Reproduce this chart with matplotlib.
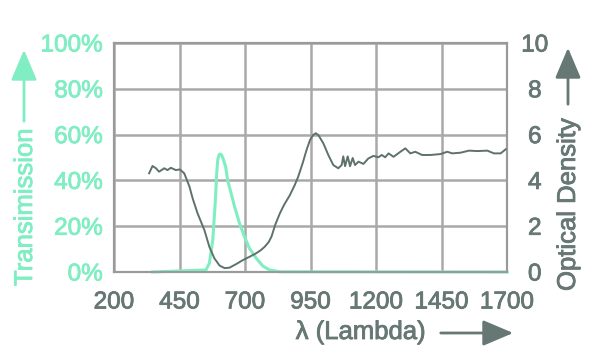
import numpy as np
import matplotlib
matplotlib.use('Agg')
import matplotlib.pyplot as plt
import matplotlib.patheffects as pe

plt.rcParams['font.family'] = ['Liberation Sans', 'DejaVu Sans']

# optical density curve (right axis)
od_lambda = [334, 347, 360, 372, 392, 404, 417, 436, 451, 468, 488, 500, 519, 545,
             564, 583, 603, 622, 641, 667, 692, 720, 743, 760, 775, 790, 801, 815,
             833, 850, 871, 890, 903, 920, 935, 948, 960, 970, 980, 999, 1018, 1037,
             1056, 1069, 1075, 1082, 1092, 1101, 1111, 1120, 1133, 1152, 1171, 1190,
             1209, 1222, 1235, 1248, 1267, 1293, 1312, 1331, 1350, 1376, 1408, 1446,
             1472, 1491, 1523, 1555, 1587, 1625, 1650, 1676, 1695]
od_values = [4.31, 4.63, 4.53, 4.38, 4.53, 4.45, 4.55, 4.45, 4.48, 4.31, 3.73, 3.22,
             2.56, 1.83, 1.10, 0.60, 0.28, 0.17, 0.19, 0.35, 0.52, 0.68, 0.82, 0.95,
             1.10, 1.30, 1.54, 2.05, 2.56, 2.95, 3.35, 3.80, 4.16, 4.75, 5.33, 5.76,
             5.98, 6.06, 5.98, 5.62, 5.11, 4.67, 4.53, 4.67, 5.05, 4.62, 5.05, 4.62,
             4.98, 4.67, 4.82, 4.72, 4.96, 5.07, 5.01, 5.11, 5.01, 5.18, 5.03, 5.25,
             5.40, 5.18, 5.25, 5.11, 5.11, 5.15, 5.25, 5.18, 5.21, 5.30, 5.28, 5.30,
             5.18, 5.18, 5.36]

# transmission curve (left axis, %)
tr_lambda = [347, 551, 564, 577, 587, 592, 596, 601, 605, 610, 615, 626, 634, 647,
             660, 679, 698, 717, 743, 768, 794, 833, 1700]
tr_values = [0.0, 0.9, 3.8, 14.0, 31.4, 43.0, 49.0, 51.2, 51.5, 51.2, 50.0, 46.0,
             40.0, 34.4, 28.6, 21.3, 15.4, 10.3, 6.0, 2.6, 0.9, 0.1, 0.0]

x_ticks = [200, 450, 700, 950, 1200, 1450, 1700]
left_ticks = [0, 20, 40, 60, 80, 100]
right_ticks = [0, 2, 4, 6, 8, 10]

green = '#80eec2'
grey = '#5f716d'
text_grey = '#667774'
grid_c = '#a9a9a9'

fig = plt.figure(figsize=(6, 3.6), dpi=100)
ax = fig.add_axes([114/600, 1-272/360, (507-114)/600, (272-43)/360])
ax2 = ax.twinx()

ax.set_xlim(200, 1700)
ax.set_ylim(0, 100)
ax2.set_ylim(0, 10)
ax.set_xticks(x_ticks)
ax.set_yticks(left_ticks)
ax.set_yticklabels(['%d%%' % v for v in left_ticks])
ax2.set_yticks(right_ticks)

ax.grid(True, color=grid_c, linewidth=1.8)
ax.set_axisbelow(True)

for a in (ax, ax2):
    for s in a.spines.values():
        s.set_color('#9a9a9a')
        s.set_linewidth(1.5)

ax.tick_params(axis='x', length=0, pad=14, labelsize=17.5, labelcolor=text_grey)
ax.tick_params(axis='y', length=0, pad=8, labelsize=17.5, labelcolor=green)
ax2.tick_params(axis='y', length=0, pad=20, labelsize=17.5, labelcolor=text_grey)
for lab in ax2.get_yticklabels():
    lab.set_horizontalalignment('center')

bold_l = [pe.withStroke(linewidth=0.6, foreground=text_grey)]
bold_g = [pe.withStroke(linewidth=0.6, foreground=green)]
for lab in ax.get_xticklabels() + ax2.get_yticklabels():
    lab.set_path_effects(bold_l)
for lab in ax.get_yticklabels():
    lab.set_path_effects(bold_g)

ax2.plot(od_lambda, od_values, color=grey, linewidth=1.4, zorder=3)
ax.plot(tr_lambda, tr_values, color=green, linewidth=2.2, zorder=4, clip_on=False)

# axis titles with arrows
fig.text(25/600, 1-286/360, 'Transimission', rotation=90, color=green,
         fontsize=18.5, ha='center', va='bottom', path_effects=bold_g)
fig.text(568/600, 1-291/360, 'Optical Density', rotation=90, color=text_grey,
         fontsize=18.5, ha='center', va='bottom', path_effects=bold_l)
fig.text(361/600, 1-332/360, 'λ (Lambda)', color=text_grey,
         fontsize=18.5, ha='center', va='center', path_effects=bold_l)

arrow_style = '-|>,head_width=0.36,head_length=0.85'
ax.annotate('', xy=(24/600, 1-47/360), xytext=(24/600, 1-124/360),
            xycoords='figure fraction', textcoords='figure fraction',
            arrowprops=dict(arrowstyle=arrow_style, color=green, lw=2, mutation_scale=22))
ax.annotate('', xy=(568/600, 1-45/360), xytext=(568/600, 1-107/360),
            xycoords='figure fraction', textcoords='figure fraction',
            arrowprops=dict(arrowstyle=arrow_style, color=text_grey, lw=2, mutation_scale=22))
ax.annotate('', xy=(516/600, 1-333/360), xytext=(438/600, 1-333/360),
            xycoords='figure fraction', textcoords='figure fraction',
            arrowprops=dict(arrowstyle=arrow_style, color=text_grey, lw=2, mutation_scale=22))

fig.savefig('out.png', dpi=100)
